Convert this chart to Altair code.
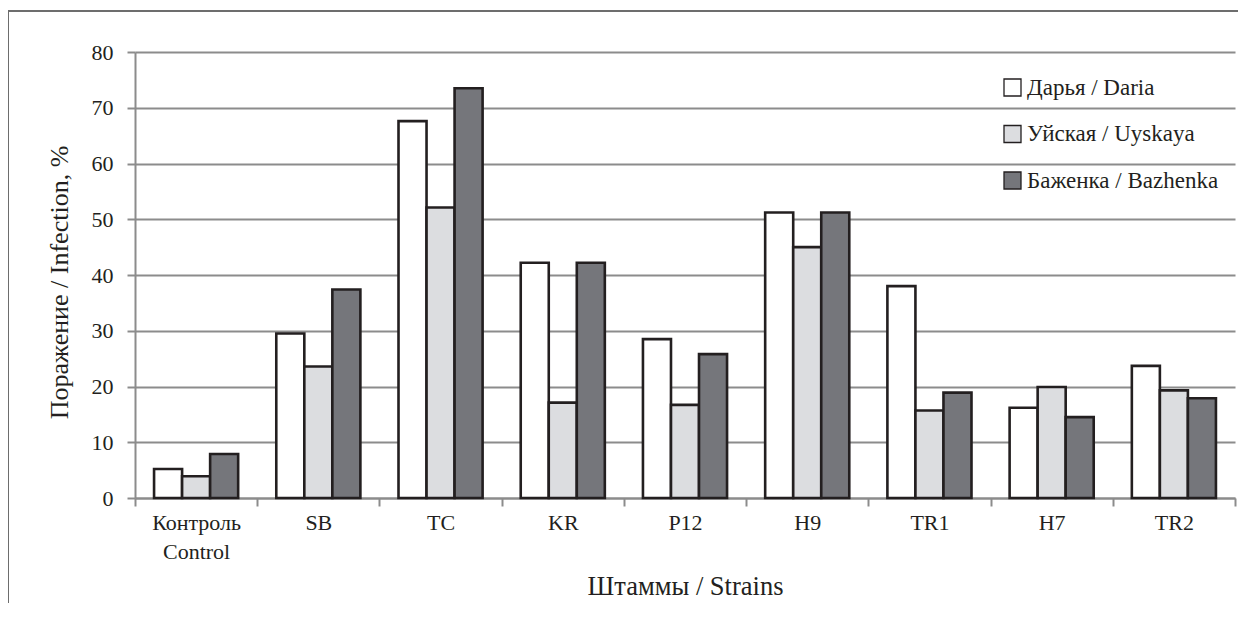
import altair as alt
import pandas as pd

categories = ["Контроль Control", "SB", "TC", "KR", "P12", "H9", "TR1", "H7", "TR2"]
series = ["Дарья / Daria", "Уйская / Uyskaya", "Баженка / Bazhenka"]
daria = [5.2, 29.5, 67.6, 42.2, 28.5, 51.2, 38.0, 16.2, 23.7]
uyskaya = [3.9, 23.6, 52.1, 17.1, 16.7, 45.0, 15.7, 19.9, 19.3]
bazhenka = [7.9, 37.4, 73.5, 42.2, 25.8, 51.2, 18.9, 14.5, 17.9]
colors = ["#ffffff", "#dcdde0", "#75767b"]
y_ticks = [0, 10, 20, 30, 40, 50, 60, 70, 80]

rows = []
for s, vals in zip(series, [daria, uyskaya, bazhenka]):
    for c, v in zip(categories, vals):
        rows.append({"strain": c, "cultivar": s, "value": v})
df = pd.DataFrame(rows)

FONT = "Liberation Serif"
INK = "#231f20"
GRID = "#8c8c8c"

bars = alt.Chart(df).mark_bar(stroke=INK, strokeWidth=2.6, strokeJoin="miter").encode(
    x=alt.X(
        "strain:N",
        sort=categories,
        scale=alt.Scale(paddingInner=0, paddingOuter=0),
        axis=alt.Axis(
            title="Штаммы / Strains",
            labelAngle=0,
            labelExpr="split(datum.label, ' ')",
            labelLineHeight=29,
            labelPadding=6,
            labelFontSize=22,
            labelFont=FONT,
            tickBand="extent",
            tickSize=8,
            tickColor=GRID,
            tickWidth=2,
            domainColor=GRID,
            domainWidth=2,
            titleFontSize=26.5,
            titleFont=FONT,
            titleY=96,
            titleBaseline="alphabetic",
            grid=False,
        ),
    ),
    xOffset=alt.XOffset("cultivar:N", sort=series,
                        scale=alt.Scale(paddingInner=0, paddingOuter=0.68)),
    y=alt.Y(
        "value:Q",
        scale=alt.Scale(domain=[0, 80], nice=False),
        axis=alt.Axis(
            title="Поражение / Infection, %",
            values=y_ticks,
            labelFontSize=22,
            labelFont=FONT,
            labelPadding=14,
            tickSize=8,
            tickColor=GRID,
            tickWidth=2,
            domainColor=GRID,
            domainWidth=2,
            gridColor=GRID,
            gridWidth=2,
            titleFontSize=26,
            titleFont=FONT,
            titleX=-68,
            titleY=230,
            titleAlign="center",
            titleBaseline="alphabetic",
        ),
    ),
    fill=alt.Fill(
        "cultivar:N",
        sort=series,
        scale=alt.Scale(domain=series, range=colors),
        legend=alt.Legend(
            title=None,
            orient="none",
            legendX=866,
            legendY=24,
            symbolType="square",
            symbolSize=289,
            symbolStrokeColor=INK,
            symbolStrokeWidth=1.3,
            labelFontSize=23,
            labelFont=FONT,
            labelLimit=400,
            labelOffset=3,
            rowPadding=22.5,
            padding=0,
        ),
    ),
)

frame_data = alt.Data(values=[{"k": 1}])
frame_left = alt.Chart(frame_data).mark_rule(color="#6d6d6d", strokeWidth=2).encode(
    x=alt.value(-127), y=alt.value(-41), y2=alt.value(553)
)
frame_top = alt.Chart(frame_data).mark_rule(color="#6d6d6d", strokeWidth=2).encode(
    x=alt.value(-127), x2=alt.value(1103), y=alt.value(-41)
)

chart = alt.layer(bars, frame_left, frame_top).properties(
    width=1100,
    height=446,
    autosize=alt.AutoSizeParams(type="none"),
    padding={"left": 127, "top": 44, "right": 3, "bottom": 105},
).configure(
    font=FONT,
).configure_axis(
    labelColor=INK,
    titleColor=INK,
    titleFontWeight="normal",
).configure_legend(
    labelColor=INK,
).configure_view(
    stroke=None,
)

chart.save("out.html", embed_options={"renderer": "svg", "actions": False})
